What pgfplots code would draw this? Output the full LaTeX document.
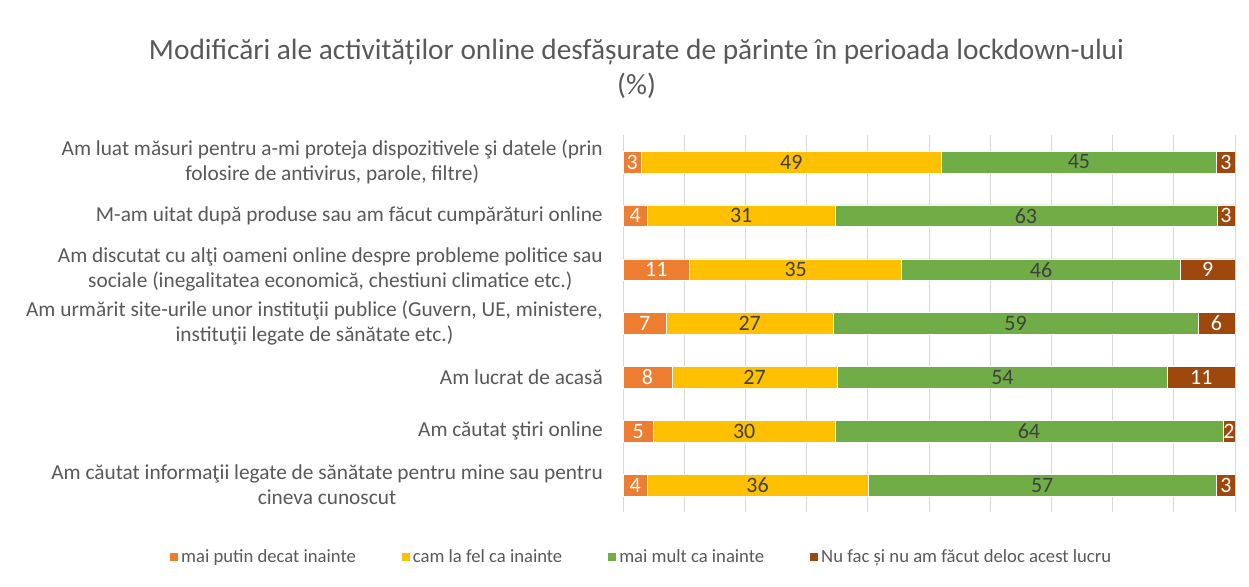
\documentclass[border=0pt]{standalone}
\usepackage{pgfplots}
\pgfplotsset{compat=1.18}
\usepackage{pgfplotstable}
\usepackage{fontspec}
\setmainfont{Carlito}
\definecolor{cOr}{HTML}{ED7D31}
\definecolor{cYe}{HTML}{FFC000}
\definecolor{cGr}{HTML}{70AD47}
\definecolor{cBr}{HTML}{9E480E}
\definecolor{txt}{HTML}{595959}
\definecolor{lbl}{HTML}{404040}
\definecolor{grd}{HTML}{D9D9D9}
\pgfplotstableread{
idx a b c d
0 3 49 45 3
1 4 31 63 3
2 11 35 46 9
3 7 27 59 6
4 8 27 54 11
5 5 30 64 2
6 4 36 57 3
}\data
\newcommand{\tot}{(\thisrow{a}+\thisrow{b}+\thisrow{c}+\thisrow{d})}
\begin{document}
\begin{tikzpicture}
\path[use as bounding box] (0,0) rectangle (936.75pt,439.5pt);
\node[align=center, text=txt, font={\fontsize{22}{26.25}\selectfont}] at (477.4pt,388pt) {Modificări ale activităților online desfășurate de părinte în perioada lockdown-ului\\(\%)};
\begin{axis}[
  at={(467.25pt,55.5pt)}, anchor=south west,
  width=459pt, height=282.75pt, scale only axis,
  xbar stacked, bar width=16.25pt,
  xmin=0, xmax=100, ymin=-0.5, ymax=6.5, y dir=reverse,
  xtick={0,10,...,100}, xticklabels={},
  ytick={0,...,6},
  yticklabels={{Am luat măsuri pentru a-mi proteja dispozitivele şi datele (prin\\folosire de antivirus, parole, filtre)},
    {M-am uitat după produse sau am făcut cumpărături online},
    {Am discutat cu alţi oameni online despre probleme politice sau\\sociale (inegalitatea economică, chestiuni climatice etc.)},
    {Am urmărit site-urile unor instituţii publice (Guvern, UE, ministere,\\instituţii legate de sănătate etc.)},
    {Am lucrat de acasă},
    {Am căutat ştiri online},
    {Am căutat informaţii legate de sănătate pentru mine sau pentru\\cineva cunoscut}},
  yticklabel style={align=center, anchor=east, inner sep=0pt, xshift=-15pt, text=txt, font={\fontsize{16}{18.75}\selectfont}},
  major tick length=0pt,
  xmajorgrids, grid style={draw=grd, line width=0.75pt},
  axis line style={draw=none},
  point meta=explicit,
  nodes near coords={\pgfmathprintnumber[assume math mode=true]{\pgfplotspointmeta}},
  every node near coord/.append style={anchor=center, font={\fontsize{16.5}{18}\selectfont}},
  legend columns=4,
  legend style={at={(0.03,-0.119)}, anchor=center, draw=none, fill=none,
    font={\fontsize{14}{16}\selectfont}, text=txt,
    /tikz/every even column/.append style={column sep=31.5pt}},
  legend image code/.code={\fill[#1] (0pt,-3.4pt) rectangle (6.8pt,3.4pt);},
]
\addplot[fill=cOr, draw=white, line width=0.4pt, nodes near coords style={text=white}]
  table[x expr={\thisrow{a}*100/\tot}, y=idx, meta=a]{\data};
\addplot[fill=cYe, draw=white, line width=0.4pt, nodes near coords style={text=lbl}]
  table[x expr={\thisrow{b}*100/\tot}, y=idx, meta=b]{\data};
\addplot[fill=cGr, draw=white, line width=0.4pt, nodes near coords style={text=lbl}]
  table[x expr={\thisrow{c}*100/\tot}, y=idx, meta=c]{\data};
\addplot[fill=cBr, draw=white, line width=0.4pt, nodes near coords style={text=white}]
  table[x expr={\thisrow{d}*100/\tot}, y=idx, meta=d]{\data};
\legend{mai putin decat inainte, cam la fel ca inainte, mai mult ca inainte, Nu fac și nu am făcut deloc acest lucru}
\end{axis}
\end{tikzpicture}
\end{document}
